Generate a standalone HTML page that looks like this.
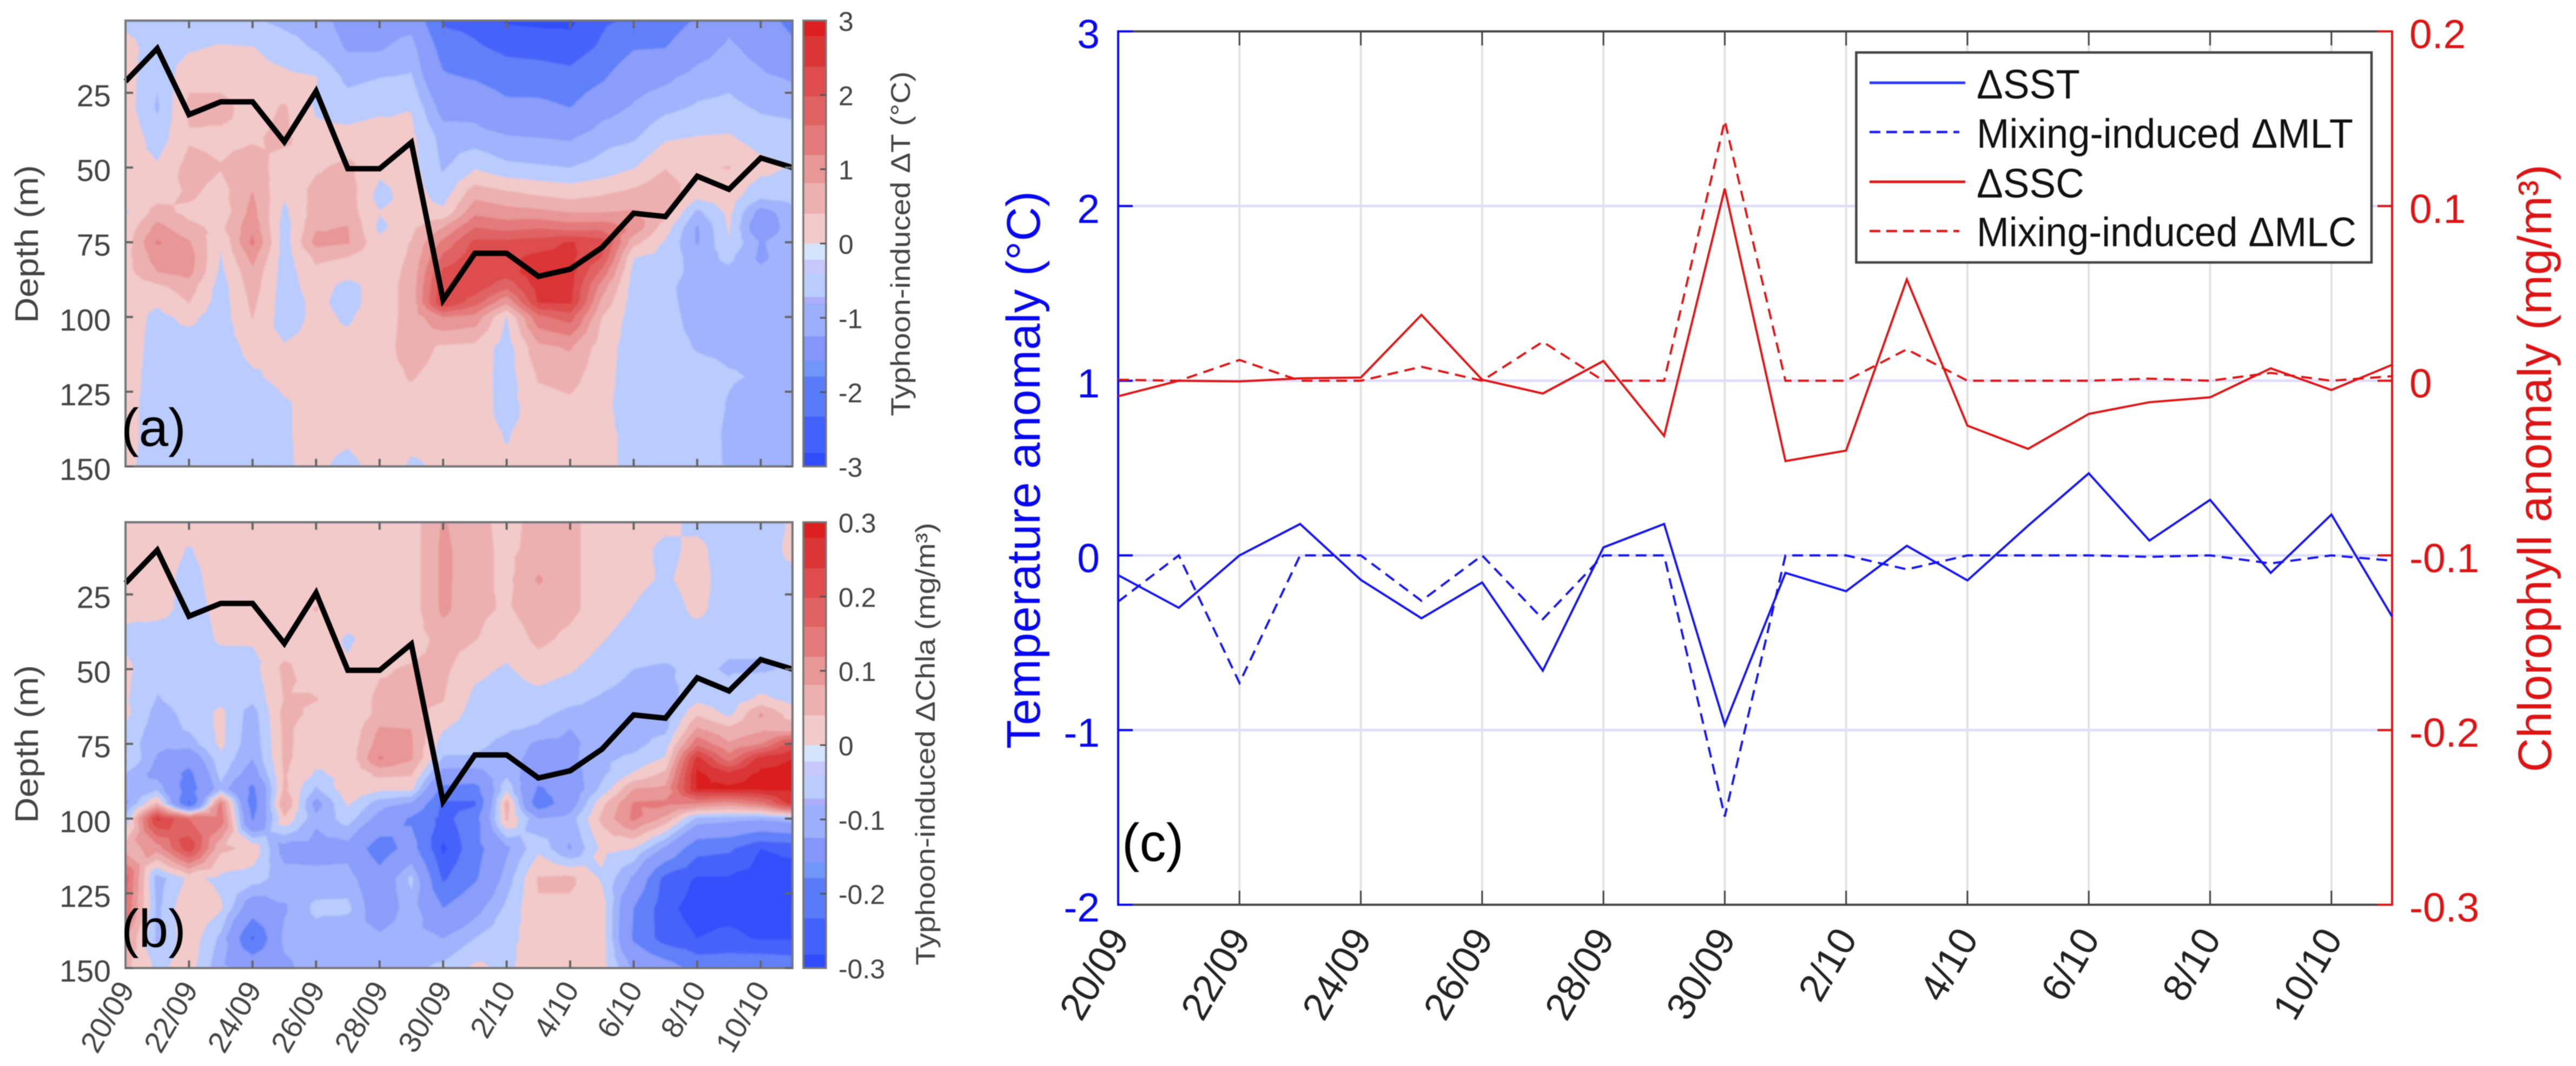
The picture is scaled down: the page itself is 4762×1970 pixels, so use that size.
<!DOCTYPE html>
<html>
<head>
<meta charset="utf-8">
<title>Typhoon-induced temperature and chlorophyll anomalies</title>
<style>
html,body{margin:0;padding:0;background:#fff;width:4762px;height:1970px;overflow:hidden}
svg{display:block;filter:blur(0.9px)}
text{font-family:"Liberation Sans",Arial,sans-serif}
</style>
</head>
<body>
<svg id="figure" xmlns="http://www.w3.org/2000/svg" width="4762" height="1970" viewBox="0 0 4762 1970">
  <defs>
    <filter id="soft" x="-2%" y="-2%" width="104%" height="104%"><feGaussianBlur stdDeviation="1.6"/></filter>
    <clipPath id="clip-a"><rect x="232" y="38" width="1233" height="824"/></clipPath>
    <clipPath id="clip-b"><rect x="232" y="965" width="1233" height="824"/></clipPath>
  </defs>
  <rect width="4762" height="1970" fill="#fff"/>
  <g id="panel-a"></g>
  <g id="panel-b"></g>
  <g id="panel-c"></g>
  <g id="legend">
    <rect x="3431.5" y="97" width="952.5" height="388" fill="#fff" stroke="#444" stroke-width="4.5"/>
    <line x1="3456" x2="3633" y1="153" y2="153" stroke="#2a3cf0" stroke-width="5"/>
    <line x1="3456" x2="3622" y1="244" y2="244" stroke="#1a1ef0" stroke-width="4.5" stroke-dasharray="20 11"/>
    <line x1="3456" x2="3633" y1="336" y2="336" stroke="#dd1c1c" stroke-width="5"/>
    <line x1="3456" x2="3622" y1="427" y2="427" stroke="#dd1c1c" stroke-width="4.5" stroke-dasharray="20 11"/>
    <text x="3654" y="182" font-size="76" textLength="191" lengthAdjust="spacingAndGlyphs" fill="#111">ΔSST</text>
    <text x="3654" y="273" font-size="76" textLength="696" lengthAdjust="spacingAndGlyphs" fill="#111">Mixing-induced ΔMLT</text>
    <text x="3654" y="365" font-size="76" textLength="199" lengthAdjust="spacingAndGlyphs" fill="#111">ΔSSC</text>
    <text x="3654" y="455" font-size="76" textLength="702" lengthAdjust="spacingAndGlyphs" fill="#111">Mixing-induced ΔMLC</text>
  </g>
</svg>
<script>
// ---------- shared categories ----------
const dateLabels = ['20/09','22/09','24/09','26/09','28/09','30/09','2/10','4/10','6/10','8/10','10/10'];
const dayCount = 22;

// ---------- panel (c) series ----------
const deltaSST = [-0.113,-0.30,0,0.18,-0.14,-0.36,-0.155,-0.66,0.046,0.18,-0.97,-0.10,-0.205,0.055,-0.143,0.17,0.47,0.085,0.318,-0.10,0.234,-0.35];
const mixingMLT = [-0.265,0,-0.73,0,0,-0.26,0,-0.365,0,0,-1.495,0,0,-0.08,0,0,0,-0.008,0,-0.046,0,-0.03];
const deltaSSC = [-0.0089,0,-0.0004,0.0014,0.0018,0.0377,0.0006,-0.0073,0.0113,-0.0316,0.110,-0.046,-0.040,0.058,-0.0257,-0.039,-0.019,-0.0123,-0.0095,0.0071,-0.0053,0.0091];
const mixingMLC = [0.0006,0,0.0119,0,0,0.008,0,0.0223,0,0,0.1488,0,0,0.018,0,0,0,0.0012,0,0.0045,0,0.0026];
const tempTicks = [3,2,1,0,-1,-2];
const chlTicks = [0.2,0.1,0,-0.1,-0.2,-0.3];

// ---------- panels (a,b) mixed layer depth ----------
const mldDepth = [21.2,10.2,32.3,28,28,41.4,24.5,50.4,50.4,41.6,94.3,78.7,78.7,86.4,84,76.8,65.3,66.4,52.9,57.3,46.8,50];
const depthTicks = [25,50,75,100,125,150];
const depthRows = [1,10,20,30,40,50,60,65,70,75,80,85,90,95,100,110,120,130,140,150];
const tempBarTicks = [3,2,1,0,-1,-2,-3];
const chlBarTicks = ['0.3','0.2','0.1','0','-0.1','-0.2','-0.3'];

// ---------- panel (a): temperature anomaly, degC; one inner array per day, one value per depth row ----------
const tempField = [
[-.1,.15,.2,.2,.3,.2,.1,-.05,.1,.2,.25,.25,.2,.2,.2,.2,.2,.15,.15,.1],
[-.2,-.2,-.35,-.45,-.2,.05,.3,.55,.95,1.25,1.0,.8,.3,.05,-.1,-.15,-.2,-.2,-.2,-.2],
[-.3,-.05,.3,.5,.35,.55,.45,.3,.5,.85,1.0,.95,.6,.42,.1,-.2,-.25,-.25,-.25,-.25],
[-.3,.05,.25,.55,.3,.42,.25,.15,.3,.05,-.03,-.1,-.2,-.2,-.2,-.2,-.2,-.25,-.25,-.25],
[-.35,.02,.15,.2,.35,.6,.85,.95,1.1,1.3,.95,.7,.6,.5,.42,.12,-.05,-.25,-.3,-.3],
[-.5,-.2,.1,.45,.5,.2,.03,-.1,-.2,-.2,-.2,-.2,-.2,-.2,-.2,.03,.1,-.05,-.05,-.05],
[-.6,-.45,.02,-.05,.1,.35,.55,.6,.75,.95,.5,.3,.2,.1,.1,.1,.1,.15,.15,.1],
[-1.0,-.85,-.5,-.2,.15,.5,.6,.6,.82,.85,.4,.15,-.15,-.15,-.05,.1,.2,.2,.1,-.15],
[-1.05,-.85,-.4,-.1,.25,.1,-.15,.02,-.1,.1,.2,.2,.2,.2,.2,.25,.3,.3,.3,.2],
[-1.0,-.6,-.35,-.02,.1,.15,.2,.2,.3,.42,.45,.5,.55,.55,.55,.55,.42,.3,.1,-.05],
[-2.4,-1.9,-1.5,-1.0,-.55,-.45,-.15,.1,.8,1.3,1.7,2.1,2.3,2.45,1.2,.35,.3,.2,.1,.05],
[-2.5,-2.2,-1.65,-1.0,-.6,-.05,.75,1.1,1.6,2.1,2.25,2.4,2.25,1.8,1.05,.3,.25,.2,.15,.1],
[-2.85,-2.45,-1.95,-1.4,-.75,-.3,.6,.95,1.45,2.1,2.3,2.2,1.7,.9,-.02,-.2,-.2,-.15,-.02,.05],
[-2.9,-2.5,-2.0,-1.4,-.8,-.35,.45,.9,1.55,2.2,2.5,2.7,2.55,2.45,1.5,.7,.45,.2,.15,.1],
[-2.9,-2.6,-2.1,-1.6,-.85,-.4,.35,.8,1.4,2.45,2.5,2.6,2.55,2.5,1.8,.85,.55,.3,.2,.1],
[-2.4,-2.2,-1.7,-1.0,-.55,-.25,.45,.8,1.45,2.2,2.0,1.5,1.0,.7,.4,.2,.15,.1,.1,.1],
[-2.2,-1.65,-1.0,-.75,-.45,-.02,.6,.85,1.1,.55,.02,-.15,-.2,-.2,-.2,-.2,-.2,-.2,-.1,-.1],
[-2.0,-1.6,-.9,-.5,-.05,.38,.75,.6,.2,-.05,-.15,-.2,-.3,-.3,-.3,-.3,-.25,-.2,-.2,-.15],
[-1.5,-1.05,-.6,-.35,.02,.35,.05,-.5,-.85,-.85,-.6,-.55,-.6,-.55,-.5,-.42,-.3,-.25,-.25,-.2],
[-.95,-.7,-.5,-.3,.05,.42,.2,.1,.05,-.02,-.3,-.5,-.55,-.5,-.5,-.45,-.38,-.42,-.45,-.45],
[-1.3,-1.0,-.7,-.45,-.2,.15,-.35,-1.0,-1.3,-.85,-.9,-.7,-.55,-.5,-.65,-.45,-.42,-.5,-.55,-.6],
[-1.8,-1.45,-.85,-.5,-.25,-.05,-.25,-.55,-.5,-.5,-.5,-.5,-.45,-.45,-.45,-.42,-.42,-.5,-.6,-.6]
];

// ---------- panel (b): chlorophyll anomaly in tenths of mg/m3; one inner array per day ----------
const chlTenthsField = [
[.2,.2,.2,.1,-.1,.1,.05,.1,-.1,-.15,.05,-.4,-.7,-.9,-.3,.6,1.8,1.6,.9,.5],
[.2,.2,.2,.15,-.25,-.3,-.42,-.55,-.6,-.7,-.85,-1.0,-.5,.5,2.5,1.0,-.6,-.5,-.5,-.1],
[.2,-.03,-.15,-.15,-.2,-.25,-.25,-.3,-.35,-.6,-1.3,-1.8,-2.0,-2.4,1.6,2.3,.1,.4,.3,.2],
[.2,.2,.2,.1,.05,-.2,-.1,.1,.1,.1,-.1,-.25,-.5,1.3,1.5,.5,-.1,.05,-.5,-.7],
[.2,.2,.2,.2,.05,-.15,-.3,-.6,-.65,-.7,-.8,-1.1,-1.8,-2.0,-1.7,.3,-.2,-1.2,-2.4,-1.0],
[.2,.2,.2,.2,.15,.5,.42,.55,.5,.5,.5,.45,.5,.85,.35,-1.0,-.6,-.85,-.7,-.9],
[.2,.2,.25,.42,.2,.15,.42,.3,.15,.15,.1,-.05,-.45,-1.0,-.7,-1.0,-.65,-.3,-.6,-.6],
[.2,.2,.2,.2,-.05,.05,.1,.1,.05,.1,.1,.1,.3,.05,-.2,-1.0,-.6,-.3,-.8,-.6],
[.2,.25,.3,.2,.15,.35,.5,.5,.85,1.0,1.25,.5,.1,-.6,-1.0,-2.0,-1.3,-1.2,-.7,-.6],
[.2,.2,.2,.2,.2,.45,.5,.45,.8,.85,.85,.45,.1,-.85,-1.7,-1.3,-.3,-.55,-.6,-.5],
[.85,.9,.9,.9,.55,.5,.42,.3,.03,-.2,-.45,-1.0,-1.8,-2.4,-2.5,-2.9,-2.4,-1.6,-.8,-.3],
[.5,.55,.55,.5,.42,.1,-.1,-.2,-.25,-.3,-.45,-1.0,-1.9,-2.4,-1.9,-1.9,-1.7,-1.0,-.4,.1],
[.3,.3,.3,.35,.15,-.05,-.2,-.25,-.35,-.5,-.6,-.5,-.1,.6,.5,-.9,-.6,-.3,-.1,-.1],
[.5,.55,.85,.6,.5,.2,-.15,-.3,-.45,-.9,-1.0,-1.2,-1.7,-2.1,-.8,-.1,.45,.35,.15,.3],
[.5,.5,.5,.5,.3,.05,-.3,-.5,-.8,-.9,-.9,-1.0,-1.2,-1.1,-.6,-.85,.5,.3,.15,.2],
[.2,.2,.2,.2,.03,-.2,-.45,-.5,-.6,-.6,-.5,-.5,-.3,.3,.5,.1,-.05,.2,.2,.2],
[.2,.15,.1,-.02,-.2,-.4,-.55,-.55,-.55,-.55,-.3,.05,.8,1.25,1.3,.0,-.9,-1.6,-1.7,-.9],
[.1,-.1,-.05,-.2,-.2,-.45,-.6,-.6,-.5,-.2,.05,.5,.9,1.3,.7,-.9,-2.5,-2.7,-2.6,-1.2],
[-.1,.1,.15,.1,-.2,-.3,-.1,.35,.85,1.5,2.6,2.9,2.85,1.2,-.5,-2.1,-2.85,-2.95,-2.8,-1.9],
[-.2,-.2,-.2,-.2,-.3,-.45,-.25,-.1,.5,.85,1.4,2.5,2.9,1.0,-.6,-2.2,-2.85,-2.95,-2.7,-1.9],
[-.2,-.2,-.15,-.25,-.3,-.45,.1,.85,.7,1.2,2.6,2.9,2.9,1.4,-.7,-2.8,-3,-3,-2.85,-1.8],
[.05,.1,-.1,-.25,-.3,-.35,-.15,.2,.6,2.2,2.8,2.9,2.9,2.6,-.5,-2.7,-3,-3,-2.85,-1.9]
];

// ---------- contour levels and colours ----------
const contourLevels = [-2.8,-2.3,-1.6,-0.8,-0.4,0,0.4,0.8,1.2,1.6,2,2.4,2.8];
const contourColors = ['#4564fa','#6080f9','#8a9dfb','#a0b3fc','#b9ccfd','#f2caca','#edb0b0','#e89696','#e47a7a','#e06363','#dd4d4d','#da3636','#d91f1f'];
const contourBase = '#3050fb';
const barEdges = [3,2.79,2.38,1.98,1.59,1.19,0.81,0.4,0,-0.22,-0.41,-0.72,-0.81,-1.25,-1.58,-1.79,-2.33,-2.82,-3];
const barColors = ['#dd1f1f','#da3636','#dd4d4d','#e06363','#e47a7a','#e89696','#edb0b0','#f2caca','#d4e4fd','#c8c8fb','#b9ccfd','#adaefa','#9aaefc','#8295fa','#7196fa','#587cf9','#4062fa','#2f4cfd'];

const NS = 'http://www.w3.org/2000/svg';
function mk(parent, tag, name) {
  const el = document.createElementNS(NS, tag);
  
  
  parent.appendChild(el);
  return el;
}
function line(parent, name, x1, y1, x2, y2, stroke, w) {
  const el = mk(parent, 'line', name);
  el.setAttribute('x1', x1); el.setAttribute('y1', y1);
  el.setAttribute('x2', x2); el.setAttribute('y2', y2);
  el.setAttribute('stroke', stroke); el.setAttribute('stroke-width', w);
  return el;
}
function label(parent, name, str, x, y, size, fill, anchor, rot, len) {
  const el = mk(parent, 'text', name);
  el.setAttribute('font-size', size);
  el.setAttribute('fill', fill);
  el.setAttribute('text-anchor', anchor || 'start');
  if (rot) { el.setAttribute('transform', 'translate(' + x + ',' + y + ') rotate(' + rot + ')'); }
  else { el.setAttribute('x', x); el.setAttribute('y', y); }
  if (len) { el.setAttribute('textLength', len); el.setAttribute('lengthAdjust', 'spacingAndGlyphs'); }
  el.textContent = str;
  return el;
}

// ---------- clip a triangle to the region value >= t ----------
function clipTri(tri, t) {
  const out = [];
  for (let i = 0; i < 3; i++) {
    const a = tri[i], b = tri[(i + 1) % 3];
    if (a[2] >= t) out.push(a);
    if ((a[2] >= t) !== (b[2] >= t)) {
      const f = (t - a[2]) / (b[2] - a[2]);
      out.push([a[0] + f * (b[0] - a[0]), a[1] + f * (b[1] - a[1]), t]);
    }
  }
  return out;
}

function drawSection(root, key, field, top, clipId, showDates, barLabels, barTitle, barTitleX, barTitleY, barTitleLen, tag, tagY) {
  const bottom = top + 824, left = 232, right = 1465, gray = '#666', txt = '#444';
  const xScale = d => left + d * (right - left) / (dayCount - 1);
  const yScale = z => bottom - (150 - z) * 5.524;

  const clip = mk(root, 'g', key + '-contour-clip');
  clip.setAttribute('clip-path', 'url(#' + clipId + ')');
  const soft = mk(clip, 'g', key + '-contours');
  soft.setAttribute('filter', 'url(#soft)');
  const base = mk(soft, 'rect', key + '-contour-base');
  base.setAttribute('x', left - 10); base.setAttribute('y', top - 10);
  base.setAttribute('width', right - left + 20); base.setAttribute('height', 844);
  base.setAttribute('fill', contourBase);

  contourLevels.forEach((lev, k) => {
    let d = '';
    for (let c = 0; c < dayCount - 1; c++) {
      for (let r = 0; r < depthRows.length - 1; r++) {
        const x0 = xScale(c), x1 = xScale(c + 1), y0 = yScale(depthRows[r]), y1 = yScale(depthRows[r + 1]);
        const a = [x0, y0, field[c][r]], b = [x1, y0, field[c + 1][r]];
        const e = [x1, y1, field[c + 1][r + 1]], f = [x0, y1, field[c][r + 1]];
        const m = [(x0 + x1) / 2, (y0 + y1) / 2, (a[2] + b[2] + e[2] + f[2]) / 4];
        [[a, b, m], [b, e, m], [e, f, m], [f, a, m]].forEach(t => {
          const poly = clipTri(t, lev);
          if (poly.length > 2) {
            d += 'M' + poly.map(p => p[0].toFixed(1) + ' ' + p[1].toFixed(1)).join('L') + 'Z';
          }
        });
      }
    }
    const band = mk(soft, 'path', key + '-contour-band-' + k);
    band.setAttribute('d', d);
    band.setAttribute('fill', contourColors[k]);
    band.setAttribute('shape-rendering', 'crispEdges');
  });

  // mixed layer depth line
  const mld = mk(root, 'polyline', key + '-mixed-layer-depth');
  mld.setAttribute('points', mldDepth.map((z, i) => xScale(i).toFixed(1) + ',' + yScale(z).toFixed(1)).join(' '));
  mld.setAttribute('fill', 'none');
  mld.setAttribute('stroke', '#000');
  mld.setAttribute('stroke-width', 10);
  mld.setAttribute('stroke-linejoin', 'miter');

  // frame
  const frame = mk(root, 'rect', key + '-frame');
  frame.setAttribute('x', left); frame.setAttribute('y', top);
  frame.setAttribute('width', right - left); frame.setAttribute('height', 824);
  frame.setAttribute('fill', 'none'); frame.setAttribute('stroke', '#777'); frame.setAttribute('stroke-width', 4);

  // x ticks
  dateLabels.forEach((s, i) => {
    const x = xScale(i * 2);
    if (i > 0) {
      line(root, key + '-x-tick-bottom', x, bottom, x, bottom - 14, gray, 4);
      line(root, key + '-x-tick-top', x, top, x, top + 14, gray, 4);
    }
    if (showDates) label(root, key + '-x-label', s, x + 18, bottom + 39, 56, txt, 'end', -60);
  });
  // y ticks
  depthTicks.forEach(z => {
    const y = yScale(z);
    line(root, key + '-y-tick', left, y, left + 14, y, gray, 4);
    line(root, key + '-y-tick-right', right, y, right - 14, y, gray, 4);
    label(root, key + '-y-label', String(z), 205, y + 25, 57, txt, 'end');
  });
  label(root, key + '-y-axis-title', 'Depth (m)', 70, top + (tag === '(a)' ? 559 : 556), 60, txt, 'start', -90, 292);
  label(root, key + '-panel-label', tag, 224, tagY, 98, '#000', 'start');

  // colorbar
  const bx = 1485, bw = 42;
  const barY = v => top + (3 - v) * 824 / 6;
  barColors.forEach((col, i) => {
    const seg = mk(root, 'rect', key + '-colorbar-segment');
    seg.setAttribute('x', bx); seg.setAttribute('width', bw);
    seg.setAttribute('y', barY(barEdges[i]));
    seg.setAttribute('height', barY(barEdges[i + 1]) - barY(barEdges[i]) + 0.5);
    seg.setAttribute('fill', col);
  });
  const bf = mk(root, 'rect', key + '-colorbar-frame');
  bf.setAttribute('x', bx); bf.setAttribute('y', top); bf.setAttribute('width', bw); bf.setAttribute('height', 824);
  bf.setAttribute('fill', 'none'); bf.setAttribute('stroke', '#777'); bf.setAttribute('stroke-width', 3.5);
  barLabels.forEach((s, i) => {
    const y = barY(3 - i);
    if (i > 0 && i < 6) line(root, key + '-colorbar-tick', bx + bw, y, bx + bw - 11, y, '#555', 3);
    label(root, key + '-colorbar-label', s, 1550, y + 19, 50, txt, 'start');
  });
  label(root, key + '-colorbar-title', barTitle, barTitleX, barTitleY, 50, txt, 'start', -90, barTitleLen);
}

drawSection(document.getElementById('panel-a'), 'temp', tempField, 38, 'clip-a', false,
  tempBarTicks.map(String), 'Typhoon-induced ΔT (°C)', 1682, 769, 637, '(a)', 824);
drawSection(document.getElementById('panel-b'), 'chl', chlTenthsField, 965, 'clip-b', true,
  chlBarTicks, 'Typhoon-induced  ΔChla (mg/m³)', 1728, 1784, 818, '(b)', 1750);

// ---------- panel (c) ----------
(function () {
  const root = document.getElementById('panel-c');
  const L = 2067, R = 4422, T = 58, B = 1672, blue = '#0808f0', red = '#dd1414';
  const x = d => L + d * (R - L) / (dayCount - 1);
  const yT = v => T + (3 - v) * (B - T) / 5;
  const yC = v => T + (0.2 - v) * (B - T) / 0.5;

  dateLabels.forEach((s, i) => {
    if (i > 0) line(root, 'c-vertical-gridline', x(i * 2), T, x(i * 2), B, '#e2e2e2', 4);
  });
  tempTicks.forEach(v => {
    if (v < 3 && v > -2) line(root, 'c-horizontal-gridline', L, yT(v), R, yT(v), '#dedefb', 5);
  });

  line(root, 'c-top-axis', L, T, R, T, '#444', 4);
  line(root, 'c-bottom-axis', L, B, R, B, '#444', 4);
  dateLabels.forEach((s, i) => {
    const px = x(i * 2);
    if (i > 0) {
      line(root, 'c-x-tick-bottom', px, B, px, B - 26, '#444', 3);
      line(root, 'c-x-tick-top', px, T, px, T + 26, '#444', 3);
    }
    label(root, 'c-x-label', s, px + 22, B + 62, 72, '#222', 'end', -60);
  });

  line(root, 'c-left-axis', L, T - 2, L, B + 2, blue, 4);
  line(root, 'c-right-axis', R, T - 2, R, B + 2, red, 4);
  tempTicks.forEach(v => {
    line(root, 'c-left-tick', L, yT(v), L + 27, yT(v), blue, 4);
    label(root, 'c-left-label', String(v), 2033, yT(v) + 31, 75, blue, 'end');
  });
  chlTicks.forEach(v => {
    line(root, 'c-right-tick', R, yC(v), R - 27, yC(v), red, 4);
    label(root, 'c-right-label', String(v), 4454, yC(v) + 31, 75, red, 'start');
  });
  label(root, 'c-left-axis-title', 'Temperature anomaly (°C)', 1922, 1384, 87, blue, 'start', -90, 1031);
  label(root, 'c-right-axis-title', 'Chlorophyll anomaly (mg/m³)', 4716, 1427, 87, red, 'start', -90, 1123);

  function series(name, vals, scale, col, dashed) {
    const p = mk(root, 'polyline', name);
    p.setAttribute('points', vals.map((v, i) => x(i).toFixed(1) + ',' + scale(v).toFixed(1)).join(' '));
    p.setAttribute('fill', 'none');
    p.setAttribute('stroke', col);
    p.setAttribute('stroke-width', 4);
    if (dashed) p.setAttribute('stroke-dasharray', '20 12');
  }
  series('series-mixing-mlt', mixingMLT, yT, '#1414f0', true);
  series('series-delta-sst', deltaSST, yT, '#1414f0', false);
  series('series-mixing-mlc', mixingMLC, yC, red, true);
  series('series-delta-ssc', deltaSSC, yC, red, false);
  label(root, 'c-panel-label', '(c)', 2074, 1591, 98, '#000', 'start');
})();
</script>
</body>
</html>
